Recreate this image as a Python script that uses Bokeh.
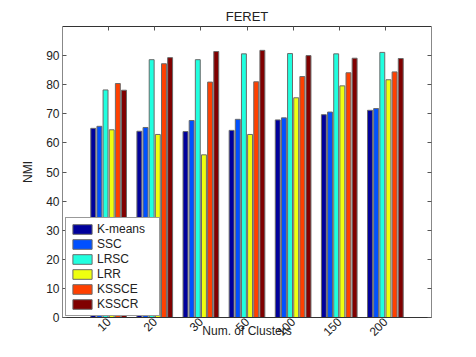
import math
from bokeh.plotting import figure
from bokeh.models import (Range1d, LinearAxis, FixedTicker, Legend,
                          LegendItem, ColumnDataSource)
from bokeh.transform import dodge
from bokeh.embed import file_html
from bokeh.resources import INLINE

clusters = ["10", "20", "30", "50", "100", "150", "200"]
kmeans = [65.0, 64.0, 63.9, 64.3, 67.9, 69.7, 71.2]
ssc = [65.7, 65.3, 67.7, 68.1, 68.6, 70.6, 71.8]
lrsc = [78.2, 88.6, 88.6, 90.6, 90.7, 90.6, 91.1]
lrr = [64.5, 62.9, 55.9, 62.9, 75.5, 79.6, 81.7]
kssce = [80.4, 87.2, 80.9, 81.0, 82.8, 84.1, 84.4]
ksscr = [78.1, 89.3, 91.4, 91.8, 90.0, 89.1, 89.0]

methods = ["K-means", "SSC", "LRSC", "LRR", "KSSCE", "KSSCR"]
series = [kmeans, ssc, lrsc, lrr, kssce, ksscr]
colors = ["#00009C", "#0050FF", "#20FFDF", "#EFFF10", "#FF4000", "#800000"]
y_ticks = [0, 10, 20, 30, 40, 50, 60, 70, 80, 90]

FONT = "Liberation Sans"
TXT = "#222222"

n = len(clusters)
pos = list(range(1, n + 1))  # group index along x (matlab-style bar positions)
src = ColumnDataSource(dict(pos=pos, label=clusters,
                            **{m: s for m, s in zip(methods, series)}))

p = figure(width=460, height=341, output_backend="svg", toolbar_location=None,
           x_range=Range1d(0, n + 1), y_range=Range1d(0, 100), x_axis_location=None,
           min_border_left=62, min_border_right=29, min_border_top=26, min_border_bottom=24,
           title="FERET")
p.title.align = "center"
p.title.text_font = FONT
p.title.text_font_size = "13px"
p.title.text_font_style = "normal"
p.title.text_color = TXT
p.title.standoff = 5
p.title.offset = 0

p.xgrid.grid_line_color = None
p.ygrid.grid_line_color = None
p.outline_line_color = None

step = 0.8 / 6
width = step * 0.8
items = []
for k, (m, c) in enumerate(zip(methods, colors)):
    r = p.vbar(x=dodge("pos", (k - 2.5) * step), top=m, width=width,
               source=src, fill_color=c, line_color="#6a6a6a", line_width=1)
    items.append(LegendItem(label=m, renderers=[r]))

xa = LinearAxis(ticker=FixedTicker(ticks=pos),
                major_label_overrides=dict(zip(pos, clusters)),
                major_label_orientation=math.pi / 4,
                major_label_text_align="right", major_label_text_baseline="middle",
                major_label_text_font=FONT, major_label_text_font_size="12px",
                major_label_text_color=TXT,
                major_tick_in=0, major_tick_out=0, minor_tick_line_color=None,
                axis_line_color="#333333", major_label_standoff=2,
                axis_label="Num. of Clusters", axis_label_standoff=-19,
                axis_label_text_font=FONT, axis_label_text_font_size="12px",
                axis_label_text_font_style="normal", axis_label_text_color=TXT)
p.add_layout(xa, "below")

ya = p.yaxis[0]
ya.axis_label = "NMI"
ya.ticker = FixedTicker(ticks=y_ticks)
ya.major_tick_in = 4
ya.major_tick_out = 0
ya.minor_tick_line_color = None
ya.major_label_standoff = 3
ya.axis_label_standoff = 8
ya.major_label_text_font = FONT
ya.major_label_text_font_size = "12px"
ya.major_label_text_color = TXT
ya.axis_label_text_font = FONT
ya.axis_label_text_font_size = "12px"
ya.axis_label_text_font_style = "normal"
ya.axis_label_text_color = TXT
ya.major_tick_line_color = "#555555"
ya.axis_line_color = "#888888"

ra = LinearAxis(ticker=FixedTicker(ticks=y_ticks),
                major_label_overrides={t: "" for t in y_ticks},
                major_tick_in=4, major_tick_out=0, minor_tick_line_color=None,
                axis_line_color="#888888", major_tick_line_color="#555555",
                major_label_standoff=0)
p.add_layout(ra, "right")
ta = LinearAxis(ticker=FixedTicker(ticks=pos),
                major_label_overrides={t: "" for t in pos},
                major_tick_in=4, major_tick_out=0, minor_tick_line_color=None,
                axis_line_color="#333333", major_tick_line_color="#555555",
                major_label_standoff=0)
p.add_layout(ta, "above")

legend = Legend(items=items, location=(3, 1), border_line_color="#333333",
                label_text_font=FONT, label_text_font_size="12px", label_text_color=TXT,
                glyph_height=12, glyph_width=24, label_height=12, label_width=58, spacing=1,
                padding=4, margin=0, label_standoff=3, background_fill_alpha=1)
p.add_layout(legend)

open("out.html", "w").write(file_html(p, INLINE))
